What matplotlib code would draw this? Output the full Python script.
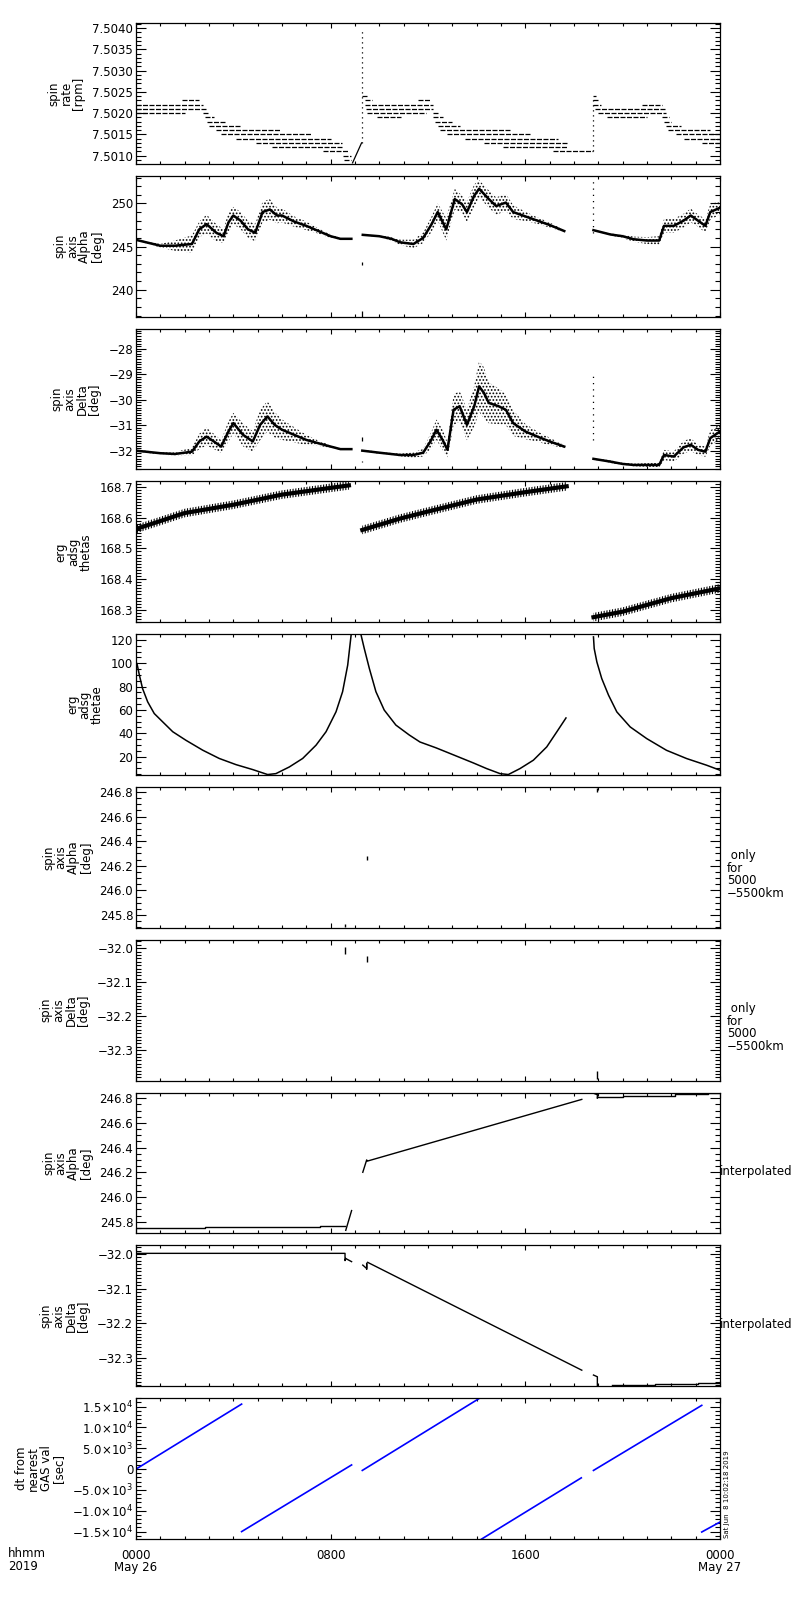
import matplotlib
matplotlib.use('Agg')
import matplotlib.pyplot as plt
from matplotlib.ticker import MultipleLocator, FixedLocator, FuncFormatter
import numpy as np

plt.rcParams['font.family'] = ['DejaVu Sans']
plt.rcParams['mathtext.fontset'] = 'dejavusans'
plt.rcParams['hatch.linewidth'] = 0.8

# ---- panel 1: spin rate, quantised levels (level, start hour, end hour)
rate_level = [7.5022, 7.5021, 7.5020, 7.5023, 7.5020, 7.5019, 7.5018, 7.5017, 7.5016,
              7.5015, 7.5014, 7.5013, 7.5012, 7.5011, 7.5010, 7.5009,
              7.5024, 7.5023, 7.5022, 7.5021, 7.5020, 7.5019, 7.5023, 7.5020, 7.5019,
              7.5018, 7.5017, 7.5016, 7.5015, 7.5014, 7.5013, 7.5012, 7.5011,
              7.5024, 7.5023, 7.5022, 7.5021, 7.5020, 7.5019, 7.5022, 7.5019, 7.5018,
              7.5017, 7.5016, 7.5015, 7.5014, 7.5013]
rate_start = [0.0, 0.0, 0.0, 1.9, 2.75, 2.85, 2.9, 3.0, 3.3,
              3.5, 4.1, 4.95, 5.6, 7.7, 8.5, 8.55,
              9.3, 9.4, 9.4, 9.45, 9.5, 9.9, 11.6, 12.2, 12.2,
              12.3, 12.4, 12.5, 12.8, 13.5, 14.3, 15.1, 17.15,
              18.8, 18.8, 18.8, 18.85, 19.0, 19.35, 20.8, 21.6, 21.7,
              21.8, 21.85, 22.2, 22.5, 23.25]
rate_end = [2.76, 2.9, 2.0, 2.6, 2.95, 3.2, 3.65, 4.3, 5.9,
            7.2, 8.0, 8.45, 8.5, 8.7, 8.85, 8.85,
            9.5, 9.7, 12.2, 12.2, 11.9, 10.9, 12.1, 12.4, 12.6,
            13.0, 13.3, 15.4, 16.2, 17.35, 17.7, 17.7, 18.8,
            18.9, 19.0, 19.1, 21.8, 21.8, 21.0, 21.6, 21.9, 22.0,
            22.4, 23.6, 24.0, 24.0, 24.0]
rate_ramp_h = [8.9, 9.27]
rate_ramp_v = [7.50083, 7.5013]
rate_spike_h = [9.3, 18.8]
rate_spike_lo = [7.5013, 7.5011]
rate_spike_hi = [7.5040, 7.5024]

# ---- panel 2: spin axis alpha (centre of scatter, half width of scatter)
alpha_h1 = [0.0, 1.0, 1.6, 2.3, 2.6, 2.9, 3.3, 3.6, 3.8, 4.0, 4.3, 4.6, 4.9, 5.2, 5.5,
            5.8, 6.0, 6.5, 7.0, 7.5, 8.0, 8.4, 8.85]
alpha_c1 = [245.78, 245.1, 245.1, 245.3, 247.0, 247.6, 246.6, 246.2, 247.8, 248.6, 248.0,
            247.0, 246.6, 249.0, 249.3, 248.6, 248.6, 247.9, 247.4, 246.8, 246.2, 245.9, 245.9]
alpha_s1 = [0.05, 0.2, 0.6, 1.0, 0.9, 1.1, 1.0, 0.8, 1.2, 1.0, 1.0, 1.0, 1.0, 1.2, 1.2,
            0.9, 0.8, 0.6, 0.5, 0.3, 0.2, 0.1, 0.05]
alpha_h2 = [9.32, 10.0, 10.5, 10.85, 11.4, 11.8, 12.15, 12.4, 12.75, 13.1, 13.4, 13.6,
            13.9, 14.1, 14.5, 14.8, 15.2, 15.5, 15.9, 16.4, 17.0, 17.6]
alpha_c2 = [246.36, 246.2, 245.9, 245.5, 245.3, 246.0, 247.6, 249.0, 247.0, 250.5, 249.9,
            249.0, 250.9, 251.7, 250.5, 249.7, 250.1, 249.0, 248.6, 248.1, 247.5, 246.8]
alpha_s2 = [0.05, 0.1, 0.2, 0.3, 0.5, 0.6, 0.9, 1.0, 1.3, 1.2, 1.0, 1.2, 1.3, 1.0, 1.0,
            1.0, 1.0, 0.8, 0.6, 0.4, 0.3, 0.1]
alpha_h3 = [18.8, 19.5, 20.0, 20.45, 21.0, 21.5, 21.7, 22.1, 22.5, 22.8, 23.1, 23.4,
            23.6, 24.0]
alpha_c3 = [246.9, 246.4, 246.2, 245.85, 245.7, 245.7, 247.4, 247.4, 248.0, 248.6, 248.0,
            247.4, 249.0, 249.5]
alpha_s3 = [0.05, 0.1, 0.2, 0.3, 0.4, 0.5, 0.8, 0.8, 0.8, 0.8, 0.7, 0.8, 0.9, 0.8]

# ---- panel 3: spin axis delta
delta_h1 = [0.0, 1.0, 1.6, 2.3, 2.6, 2.9, 3.2, 3.5, 3.8, 4.0, 4.4, 4.8, 5.1, 5.4, 5.7,
            6.0, 6.5, 7.0, 7.5, 8.0, 8.4, 8.85]
delta_c1 = [-31.99, -32.09, -32.12, -32.03, -31.63, -31.44, -31.63, -31.83, -31.24, -30.91,
            -31.37, -31.63, -30.98, -30.65, -30.98, -31.17, -31.37, -31.57, -31.70, -31.83,
            -31.93, -31.93]
delta_s1 = [0.03, 0.05, 0.08, 0.15, 0.3, 0.35, 0.3, 0.25, 0.4, 0.4, 0.45, 0.4, 0.6, 0.6,
            0.5, 0.4, 0.3, 0.2, 0.1, 0.05, 0.03, 0.02]
delta_h2 = [9.3, 10.0, 10.85, 11.4, 11.8, 12.1, 12.35, 12.6, 12.8, 13.05, 13.3, 13.6, 13.9,
            14.1, 14.3, 14.5, 14.9, 15.2, 15.5, 16.0, 16.5, 17.0, 17.6]
delta_c2 = [-31.99, -32.07, -32.16, -32.16, -32.07, -31.63, -31.17, -31.57, -31.96, -30.39,
            -30.25, -30.98, -30.25, -29.47, -29.73, -30.12, -30.25, -30.39, -30.91, -31.24,
            -31.44, -31.63, -31.83]
delta_s2 = [0.03, 0.04, 0.05, 0.1, 0.15, 0.3, 0.4, 0.4, 0.3, 0.6, 0.6, 0.6, 0.8, 1.0, 1.0,
            0.8, 0.7, 0.6, 0.5, 0.3, 0.2, 0.15, 0.05]
delta_h3 = [18.8, 19.5, 20.0, 20.45, 21.0, 21.5, 21.7, 22.1, 22.5, 22.8, 23.1, 23.4, 23.6,
            24.0]
delta_c3 = [-32.31, -32.42, -32.51, -32.55, -32.55, -32.55, -32.16, -32.22, -31.86, -31.76,
            -31.96, -32.03, -31.5, -31.24]
delta_s3 = [0.03, 0.05, 0.05, 0.05, 0.07, 0.08, 0.2, 0.2, 0.25, 0.25, 0.2, 0.2, 0.3, 0.3]

# ---- panel 4: erg adsg thetas
thetas_h = [[0.0, 2.0, 4.0, 6.0, 8.0, 8.75],
            [9.3, 10.85, 12.0, 14.0, 16.0, 17.7],
            [18.8, 20.0, 21.0, 22.0, 23.0, 24.0]]
thetas_v = [[168.563, 168.615, 168.642, 168.675, 168.697, 168.705],
            [168.56, 168.597, 168.62, 168.659, 168.683, 168.702],
            [168.276, 168.294, 168.316, 168.338, 168.354, 168.37]]

# ---- panel 5: erg adsg thetae
thetae_h = [[0.04, 0.14, 0.27, 0.48, 0.75, 1.10, 1.51, 2.05, 2.74, 3.42, 4.11, 4.79, 5.41,
             5.75, 6.30, 6.85, 7.40, 7.81, 8.22, 8.49, 8.70, 8.84, 8.9],
            [9.2, 9.25, 9.38, 9.59, 9.86, 10.2, 10.68, 11.23, 11.67, 12.33, 12.77, 13.87,
             14.41, 14.96, 15.3, 15.78, 16.33, 16.88, 17.29, 17.67],
            [18.8, 18.83, 18.94, 19.14, 19.42, 19.76, 20.31, 20.99, 21.8, 22.63, 23.45, 24.0]]
thetae_v = [[99.7, 89.7, 78.3, 66.9, 56.9, 49.7, 41.3, 34.0, 25.5, 18.4, 13.1, 8.9, 4.6,
             5.4, 11.1, 18.4, 29.8, 41.3, 58.4, 75.6, 98.4, 124.1, 140],
            [140, 124.1, 112.7, 95.5, 75.6, 59.9, 47.0, 38.5, 32.5, 27.5, 23.8, 14.5, 9.7,
             5.4, 4.6, 9.7, 16.9, 28.3, 41.1, 53.1],
            [122.6, 112.6, 101.1, 86.9, 72.6, 58.3, 45.4, 35.4, 25.4, 18.3, 12.6, 8.3]]

# ---- panels 6/7: values only for 5000-5500 km (hour, low, high)
alpha_only_h = [8.59, 9.48, 18.93]
alpha_only_lo = [245.70, 246.25, 246.80]
alpha_only_hi = [245.73, 246.28, 246.83]
delta_only_h = [8.59, 9.48, 18.96]
delta_only_lo = [-32.017, -32.041, -32.386]
delta_only_hi = [-31.997, -32.022, -32.36]

# ---- panels 8/9: interpolated values
alpha_int_h = [[0.0, 2.84, 2.84, 7.56, 7.56, 8.59], [8.62, 8.86],
               [9.32, 9.48, 9.5, 18.32], [18.8, 18.93, 18.96, 18.96],
               [18.96, 20.03, 20.03, 22.15, 22.15, 23.52, 23.52, 24.0]]
alpha_int_v = [[245.746, 245.746, 245.754, 245.754, 245.765, 245.765], [245.73, 245.89],
               [246.2, 246.30, 246.29, 246.79], [246.84, 246.83, 246.84, 246.80],
               [246.808, 246.808, 246.819, 246.819, 246.83, 246.83, 246.838, 246.838]]
delta_int_h = [[0.0, 8.59, 8.59, 8.62], [8.62, 8.86], [9.32, 9.48, 9.48, 9.48],
               [9.52, 18.32], [18.8, 18.96, 18.96],
               [19.55, 21.33, 21.33, 23.11, 23.11, 24.0]]
delta_int_v = [[-31.998, -31.998, -32.019, -32.013], [-32.013, -32.022],
               [-32.032, -32.042, -32.027, -32.044], [-32.024, -32.336],
               [-32.35, -32.355, -32.382],
               [-32.380, -32.380, -32.377, -32.377, -32.374, -32.374]]

# ---- panel 10: dt from nearest GAS value [sec]
dt_h = [[0.0, 4.34], [4.34, 8.86], [9.3, 14.2], [14.2, 18.3], [18.8, 23.25], [23.25, 24.0]]
dt_v = [[0, 15600], [-15000, 1000], [-320, 17300], [-16800, -2100], [-320, 15300],
        [-15100, -12700]]

labels = ['spin\nrate\n[rpm]', 'spin\naxis\nAlpha\n[deg]', 'spin\naxis\nDelta\n[deg]',
          'erg\nadsg\nthetas', 'erg\nadsg\nthetae', 'spin\naxis\nAlpha\n[deg]',
          'spin\naxis\nDelta\n[deg]', 'spin\naxis\nAlpha\n[deg]', 'spin\naxis\nDelta\n[deg]',
          'dt from\nnearest\nGAS val\n[sec]']
ylims = [(7.50081, 7.50412), (236.9, 253.2), (-32.72, -27.21), (168.26, 168.718),
         (4.3, 124.9), (245.697, 246.84), (-32.389, -31.975), (245.706, 246.845),
         (-32.382, -31.975), (-16752, 17016)]
majors = [np.arange(7.5010, 7.50405, 0.0005), [240, 245, 250], [-32, -31, -30, -29, -28],
          [168.3, 168.4, 168.5, 168.6, 168.7], [20, 40, 60, 80, 100, 120],
          [245.8, 246.0, 246.2, 246.4, 246.6, 246.8], [-32.3, -32.2, -32.1, -32.0],
          [245.8, 246.0, 246.2, 246.4, 246.6, 246.8], [-32.3, -32.2, -32.1, -32.0],
          [-15000, -10000, -5000, 0, 5000, 10000, 15000]]
minors = [0.0001, 1, 0.1, 0.01, 5, 0.05, 0.01, 0.05, 0.01, 1000]
fmts = ['%.4f', '%d', '%d', '%.1f', '%d', '%.1f', '%.1f', '%.1f', '%.1f', None]
side_notes = [None, None, None, None, None, ' only\nfor\n5000\n\u22125500km',
              ' only\nfor\n5000\n\u22125500km', 'interpolated', 'interpolated', None]


def sci_fmt(v, pos):
    if abs(v) < 1:
        return '0'
    e = int(np.floor(np.log10(abs(v))))
    m = v / 10 ** e
    return r'$%s%.1f\!\times\!10^{%d}$' % ('-' if m < 0 else '', abs(m), e)


def make_fmt(f):
    return FuncFormatter(lambda v, pos: (f % v).replace('-', '\u2212'))


fig = plt.figure(figsize=(8, 16), dpi=100)
axes = []
for i in range(10):
    top = 23 + i * 152.8
    ax = fig.add_axes([136 / 800, 1 - (top + 140.7) / 1600, 584 / 800, 140.7 / 1600])
    axes.append(ax)
    ax.set_xlim(0, 24)
    ax.set_ylim(*ylims[i])
    ax.xaxis.set_major_locator(FixedLocator([0, 8, 16, 24]))
    ax.xaxis.set_minor_locator(MultipleLocator(1))
    ax.yaxis.set_major_locator(FixedLocator(majors[i]))
    ax.yaxis.set_minor_locator(MultipleLocator(minors[i]))
    if fmts[i]:
        ax.yaxis.set_major_formatter(make_fmt(fmts[i]))
    else:
        ax.yaxis.set_major_formatter(FuncFormatter(sci_fmt))
    ax.tick_params(which='both', direction='in', top=True, right=True, labelsize=8.5,
                   width=0.8, colors='k')
    ax.tick_params(axis='y', which='major', length=7.5, pad=2)
    ax.tick_params(axis='y', which='minor', length=3.8)
    ax.tick_params(axis='x', which='major', length=3.8, pad=7)
    ax.tick_params(axis='x', which='minor', length=1.9)
    for s in ax.spines.values():
        s.set_linewidth(0.9)
    ax.set_ylabel(labels[i], fontsize=8.5, labelpad=5, linespacing=0.95,
                  multialignment='center')
    if side_notes[i] == 'interpolated':
        ax.text(1.0, 0.44, side_notes[i], transform=ax.transAxes, fontsize=8.5,
                ha='left', va='center')
    elif side_notes[i]:
        ax.text(1.012, 0.557, side_notes[i], transform=ax.transAxes, fontsize=8.5,
                ha='left', va='top', linespacing=0.95)
    if i < 9:
        ax.set_xticklabels([])

# panel 1
ax = axes[0]
ax.hlines(rate_level, rate_start, rate_end, color='k', lw=0.9, linestyles=(0, (4, 1.2)))
ax.plot(rate_ramp_h, rate_ramp_v, color='k', lw=0.9)
ax.vlines(rate_spike_h, rate_spike_lo, rate_spike_hi, color='k', lw=0.9,
          linestyles=(0, (1, 3)))

# panels 2, 3: scatter cloud drawn as speckled band round the dense centre line
for ax, hs, cs, ss in [(axes[1], [alpha_h1, alpha_h2, alpha_h3],
                        [alpha_c1, alpha_c2, alpha_c3], [alpha_s1, alpha_s2, alpha_s3]),
                       (axes[2], [delta_h1, delta_h2, delta_h3],
                        [delta_c1, delta_c2, delta_c3], [delta_s1, delta_s2, delta_s3])]:
    for h, c, s in zip(hs, cs, ss):
        c = np.array(c)
        s = np.array(s)
        ax.fill_between(h, c - s, c + s, facecolor='none', edgecolor='k', hatch='.....',
                        lw=0)
        ax.plot(h, c, color='k', lw=1.8)
axes[1].vlines([18.8], [246.6], [252.6], color='k', lw=0.9, linestyles=(0, (1, 4)))
axes[1].vlines([9.28, 9.3], [236.9, 242.9], [237.5, 243.2], color='k', lw=0.9)
axes[2].vlines([18.8], [-31.57], [-28.94], color='k', lw=0.9, linestyles=(0, (1, 4)))
axes[2].vlines([9.3, 9.3], [-31.63, -32.45], [-31.44, -32.40], color='k', lw=0.9)

# panel 4
for h, v in zip(thetas_h, thetas_v):
    v = np.array(v)
    axes[3].fill_between(h, v - 0.014, v + 0.014, facecolor='none', edgecolor='k',
                         hatch='||||||', lw=0)
    axes[3].plot(h, v, color='k', lw=3.0)

# panel 5
for h, v in zip(thetae_h, thetae_v):
    axes[4].plot(h, v, color='k', lw=1.1)

# panels 6, 7
axes[5].vlines(alpha_only_h, alpha_only_lo, alpha_only_hi, color='k', lw=1.0)
axes[6].vlines(delta_only_h, delta_only_lo, delta_only_hi, color='k', lw=1.0)

# panels 8, 9
for h, v in zip(alpha_int_h, alpha_int_v):
    axes[7].plot(h, v, color='k', lw=1.0)
for h, v in zip(delta_int_h, delta_int_v):
    axes[8].plot(h, v, color='k', lw=1.0)

# panel 10
for h, v in zip(dt_h, dt_v):
    axes[9].plot(h, v, color='#0000ff', lw=1.2)
axes[9].set_xticklabels(['0000\nMay 26', '0800', '1600', '0000\nMay 27'], fontsize=8.5,
                        linespacing=0.95)

fig.text(8 / 800, 1 - 1547 / 1600, 'hhmm\n2019', fontsize=8.5, ha='left', va='top',
         linespacing=0.95)
fig.text(724 / 800, 1 - 1538 / 1600, 'Sat Jun  8 10:02:18 2019', fontsize=5,
         rotation=90, ha='left', va='bottom')

fig.savefig('out.png', dpi=100)
